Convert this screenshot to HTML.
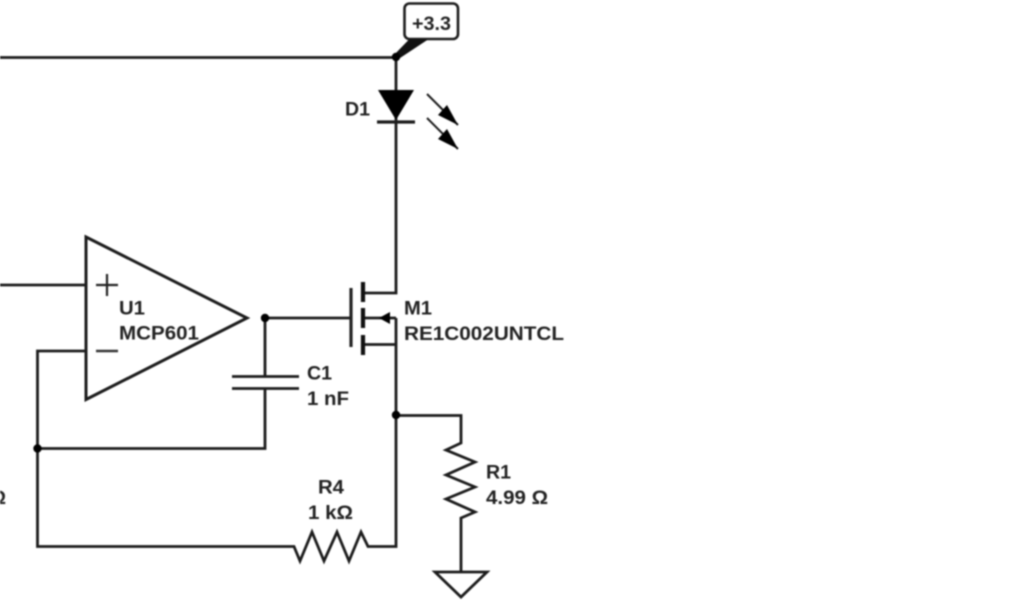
<!DOCTYPE html>
<html><head><meta charset="utf-8"><style>
html,body{margin:0;padding:0;background:#fff;width:1024px;height:600px;overflow:hidden}
svg{display:block;filter:blur(0.7px)}
text{font-family:"Liberation Sans",sans-serif;font-weight:bold;font-size:19.500px;fill:#222}
.w{fill:none;stroke:#1c1c1c;stroke-width:2.800;stroke-linejoin:miter}
.t{fill:none;stroke:#111;stroke-width:4.200}
</style></head><body>
<svg width="1024" height="600" viewBox="0 0 1024 600" xmlns="http://www.w3.org/2000/svg">
<path class="w" d="M0 57.500H396V293H365M396 318V546.500H368L361 532L349 561L337 532L324 561L312 532L300 561L294 546.500H37.500V351H86M0 285H86"/>
<rect x="404.500" y="3.500" width="53.500" height="35.500" rx="5" fill="#fff" stroke="#1c1c1c" stroke-width="2.600"/>
<polygon points="393,56 397,60 428,39.500 409,39.500" fill="#111"/>
<text x="412" y="30" textLength="39" lengthAdjust="spacingAndGlyphs">+3.3</text>
<polygon points="378,90 414,90 396,120" fill="#000"/>
<path class="w" d="M377 122H415" style="stroke-width:3.200"/>
<text x="345" y="115.500" textLength="25" lengthAdjust="spacingAndGlyphs">D1</text>
<path class="w" d="M427 94L458 125M427 118L458 149" style="stroke-width:2"/>
<polygon points="458,125 438,115 447,105" fill="#000"/>
<polygon points="458,149 438,139 447,129" fill="#000"/>
<path class="w" d="M265 318H351M363 318H396M363 344.500H396" />
<path d="M351 288V347" fill="none" stroke="#222" stroke-width="3.200"/>
<path class="t" d="M363 282V302M363 308V328M363 335V355"/>
<polygon points="379,318 390,312 390,324" fill="#000"/>
<text x="404" y="314.500" textLength="28" lengthAdjust="spacingAndGlyphs">M1</text>
<text x="404" y="340" textLength="160" lengthAdjust="spacingAndGlyphs">RE1C002UNTCL</text>
<polygon points="86,237 247,318 86,399.500" fill="#fff" stroke="#1c1c1c" stroke-width="3"/>
<path d="M96 285H118M107 274V296" fill="none" stroke="#222" stroke-width="2.200"/>
<path d="M96 351H118" fill="none" stroke="#333" stroke-width="2.600"/>
<text x="119" y="314.500" textLength="26" lengthAdjust="spacingAndGlyphs">U1</text>
<text x="119" y="339.500" textLength="80" lengthAdjust="spacingAndGlyphs">MCP601</text>
<path class="w" d="M265 318V376M265 388V448.500H37"/>
<path class="w" d="M232 376.500H299M232 388.500H299"/>
<text x="307" y="379.500" textLength="25" lengthAdjust="spacingAndGlyphs">C1</text>
<text x="307" y="405" textLength="42" lengthAdjust="spacingAndGlyphs">1 nF</text>
<text x="318" y="493.500" textLength="26" lengthAdjust="spacingAndGlyphs">R4</text>
<text x="308" y="519" textLength="45" lengthAdjust="spacingAndGlyphs">1 kΩ</text>
<path class="w" d="M396 415.500H461V443L446 450L475 462L446 475L475 487L446 499L475 512L461 518V572"/>
<polygon points="435,572 487,572 461,597" fill="#fff" stroke="#1c1c1c" stroke-width="2.800"/>
<text x="486" y="478.500" textLength="25" lengthAdjust="spacingAndGlyphs">R1</text>
<text x="486" y="504" textLength="62" lengthAdjust="spacingAndGlyphs">4.99 Ω</text>
<text x="-9" y="504" textLength="15" lengthAdjust="spacingAndGlyphs">Ω</text>
<circle cx="396" cy="57" r="4.200" fill="#000"/>
<circle cx="265" cy="318" r="4.200" fill="#000"/>
<circle cx="37.500" cy="448.500" r="4.200" fill="#000"/>
<circle cx="396" cy="415" r="4.200" fill="#000"/>
</svg>
</body></html>
